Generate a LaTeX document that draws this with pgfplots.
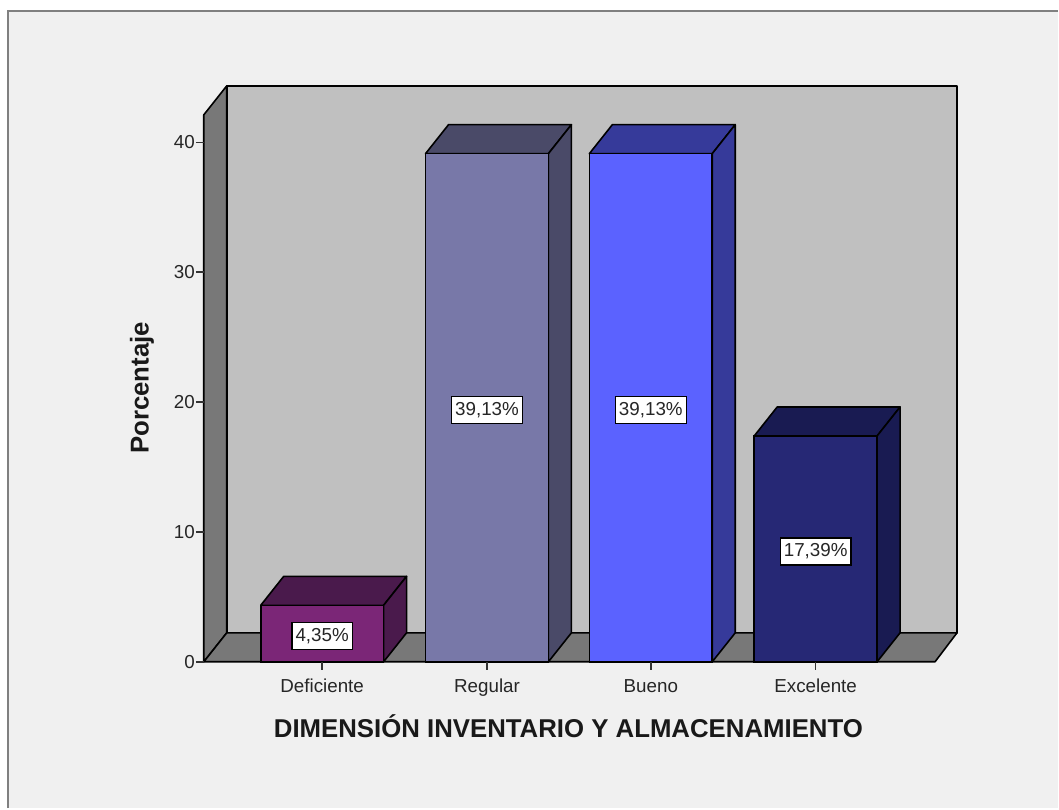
\documentclass[border=0pt]{standalone}
\usepackage{pgfplots}
\pgfplotsset{compat=1.18}
\usepackage{fontspec}
\setmainfont{Liberation Sans}
\definecolor{pagebg}{HTML}{F0F0F0}
\definecolor{frameline}{HTML}{808080}
\definecolor{wallback}{HTML}{C0C0C0}
\definecolor{wallside}{HTML}{787878}
\definecolor{defF}{HTML}{7B2677}
\definecolor{defT}{HTML}{4A1A4C}
\definecolor{regF}{HTML}{7878A8}
\definecolor{regT}{HTML}{4A4A68}
\definecolor{bueF}{HTML}{5B62FF}
\definecolor{bueT}{HTML}{363A9A}
\definecolor{excF}{HTML}{262875}
\definecolor{excT}{HTML}{191B52}
% x is in horizontal units of 1pt, y in percent (13pt per percent)
\newcommand{\solid}[2]{\addplot[draw=black,line width=1.6pt,line join=round,fill=#1] coordinates {#2} -- cycle;}
\begin{document}
\begin{tikzpicture}
\begin{axis}[
  scale only axis, width=732pt, height=547.5pt,
  at={(204pt,146.5pt)}, anchor=origin,
  xmin=204, xmax=936, ymin=0, ymax=42.115,
  clip=false, axis on top=true,
  axis line style={draw=none},
  xtick={322.5,487.5,651.5,816.5},
  xticklabels={Deficiente,Regular,Bueno,Excelente},
  ytick={0,10,20,30,40},
  xtick pos=bottom, ytick pos=left,
  tick align=outside, major tick length=8pt,
  tick style={draw=black!80,line width=1.5pt},
  /pgf/number format/assume math mode=true,
  ticklabel style={font=\fontsize{18.8}{21}\selectfont,text=black!85},
  xticklabel style={yshift=-5.5pt,text height=13.5pt,text depth=4pt},
  yticklabel style={xshift=2.5pt},
]
% page and frame
\addplot[draw=none,fill=white] coordinates {(0,-11.27)(1059,-11.27)(1059,50.96)(0,50.96)} -- cycle;
\addplot[draw=none,fill=pagebg] coordinates {(8,-11.27)(1059,-11.27)(1059,50.12)(8,50.12)} -- cycle;
\addplot[draw=frameline,line width=2.2pt] coordinates {(8,-11.27)(8,50.12)(1059,50.12)};
% chart walls and floor
\solid{wallback}{(227,2.23)(958,2.23)(958,44.35)(227,44.35)}
\solid{wallside}{(204,0)(227,2.23)(227,44.35)(204,42.115)}
\solid{wallside}{(204,0)(936,0)(958,2.23)(227,2.23)}
% top and side faces of the bars
\solid{defT}{(261,4.35)(384,4.35)(407,6.58)(284,6.58)}
\solid{defT}{(384,0)(407,2.23)(407,6.58)(384,4.35)}
\solid{regT}{(426,39.13)(549,39.13)(572,41.36)(449,41.36)}
\solid{regT}{(549,0)(572,2.23)(572,41.36)(549,39.13)}
\solid{bueT}{(590,39.13)(713,39.13)(736,41.36)(613,41.36)}
\solid{bueT}{(713,0)(736,2.23)(736,41.36)(713,39.13)}
\solid{excT}{(755,17.39)(878,17.39)(901,19.62)(778,19.62)}
\solid{excT}{(878,0)(901,2.23)(901,19.62)(878,17.39)}
% front faces
\addplot[ybar,bar shift=0pt,bar width=123pt,draw=black,line width=1.6pt,fill=defF] coordinates {(322.5,4.35)};
\addplot[ybar,bar shift=0pt,bar width=123pt,draw=black,line width=1.6pt,fill=regF] coordinates {(487.5,39.13)};
\addplot[ybar,bar shift=0pt,bar width=123pt,draw=black,line width=1.6pt,fill=bueF] coordinates {(651.5,39.13)};
\addplot[ybar,bar shift=0pt,bar width=123pt,draw=black,line width=1.6pt,fill=excF] coordinates {(816.5,17.39)};
% value boxes near half bar height
\foreach \px/\py/\txt in {322.5/2.175/{4,35\%},487.5/19.565/{39,13\%},651.5/19.565/{39,13\%},816.5/8.695/{17,39\%}}{
  \edef\temp{\noexpand\node[draw=black,line width=1.3pt,fill=white,text=black!85,inner xsep=3.5pt,inner ysep=0pt,minimum height=27pt,yshift=-2.5pt,font=\noexpand\fontsize{18.8}{21}\noexpand\selectfont] at (axis cs:\px,\py) {\unexpanded\expandafter{\txt}};}
  \temp
}
\node[font=\bfseries\fontsize{25.8}{28}\selectfont,rotate=90,text=black!90] at (axis cs:142,21.1) {Porcentaje};
\node[font=\bfseries\fontsize{25.8}{28}\selectfont,text=black!90] at (axis cs:569,-4.95) {DIMENSIÓN INVENTARIO Y ALMACENAMIENTO};
\end{axis}
\end{tikzpicture}
\end{document}
